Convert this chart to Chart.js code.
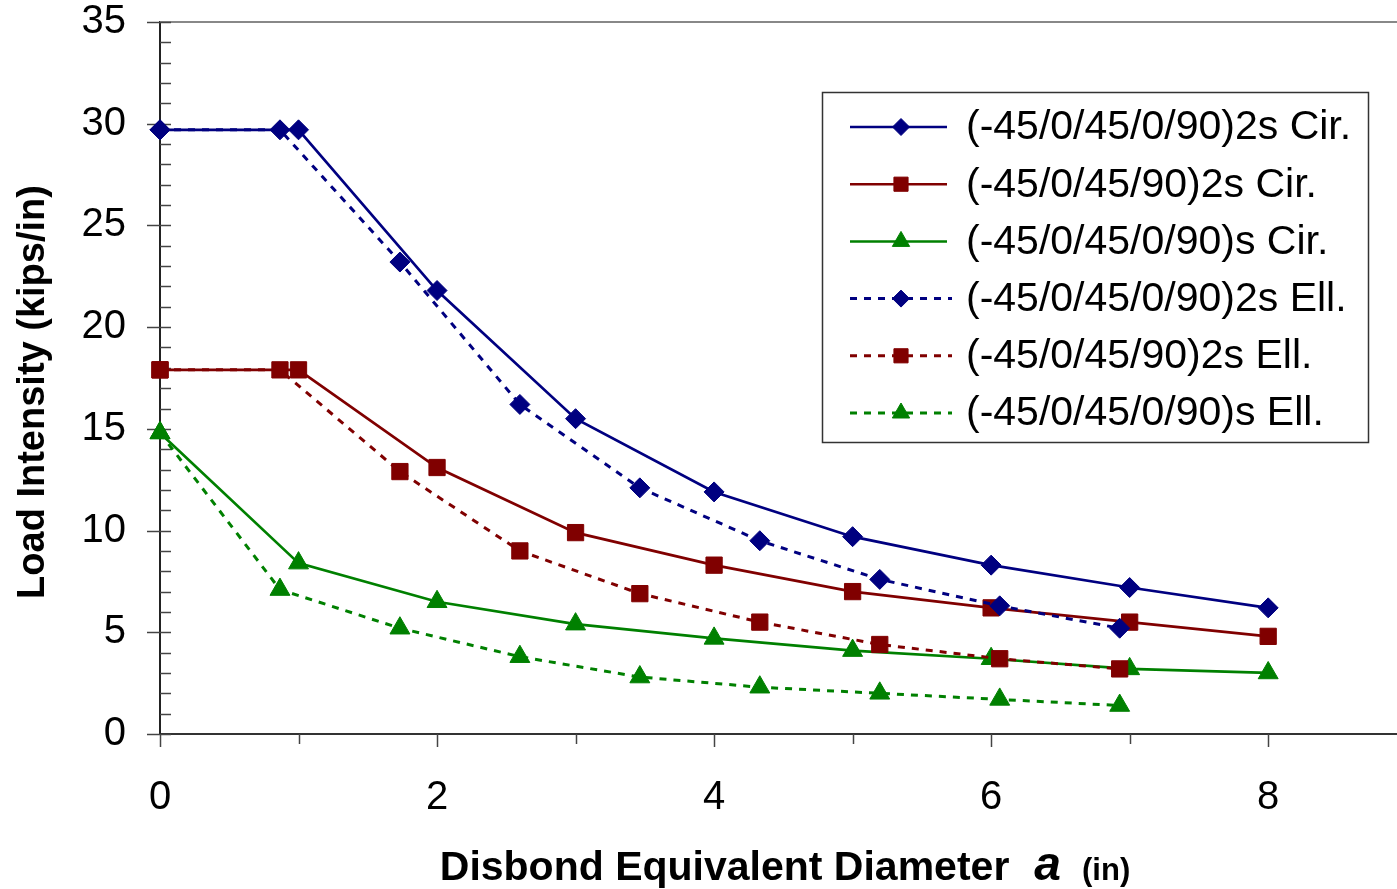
<!DOCTYPE html>
<html>
<head>
<meta charset="utf-8">
<title>Load Intensity vs Disbond Diameter</title>
<script src="https://cdn.jsdelivr.net/npm/chart.js@4.4.1/dist/chart.umd.min.js"></script>
<style>
  html, body { margin: 0; padding: 0; background: #fff; }
  #wrap { width: 1397px; height: 889px; }
</style>
</head>
<body>
<div id="wrap"><canvas id="chart" width="1397" height="889"></canvas></div>
<script>
// x positions: circular disbonds at whole inches, elliptical ones at steps of ~0.866
const xCir = [0, 1, 2, 3, 4, 5, 6, 7, 8];
const xEll = [0, 0.866, 1.732, 2.598, 3.464, 4.33, 5.196, 6.062, 6.928];

// load intensity (kips/in)
const cir2sA = [29.7, 29.7, 21.8, 15.5, 11.9, 9.7, 8.3, 7.2, 6.2];
const cir2sB = [17.9, 17.9, 13.1, 9.9, 8.3, 7.0, 6.2, 5.5, 4.8];
const cirSA  = [14.8, 8.4, 6.5, 5.4, 4.7, 4.1, 3.7, 3.2, 3.0];
const ell2sA = [29.7, 29.7, 23.2, 16.2, 12.1, 9.5, 7.6, 6.3, 5.2];
const ell2sB = [17.9, 17.9, 12.9, 9.0, 6.9, 5.5, 4.4, 3.7, 3.2];
const ellSA  = [14.8, 7.1, 5.2, 3.8, 2.8, 2.3, 2.0, 1.7, 1.4];

const seriesNames = [
  '(-45/0/45/0/90)2s Cir.',
  '(-45/0/45/90)2s Cir.',
  '(-45/0/45/0/90)s Cir.',
  '(-45/0/45/0/90)2s Ell.',
  '(-45/0/45/90)2s Ell.',
  '(-45/0/45/0/90)s Ell.'
];
const yTicks = [0, 5, 10, 15, 20, 25, 30, 35];
const xTicks = [0, 2, 4, 6, 8];

const NAVY = '#000080', MAROON = '#800000', GREEN = '#008000';
const FONT = '"Liberation Sans", Arial, sans-serif';

function pts(xs, ys) {
  return xs.map((x, i) => ({ x: x, y: ys[i] }));
}

function makeSet(label, xs, ys, color, shape, dashed, order) {
  let r = shape === 'rect' ? 11.5 : (shape === 'triangle' ? 11.5 : 10);
  return {
    label: label,
    data: pts(xs, ys),
    borderColor: color,
    backgroundColor: color,
    borderWidth: dashed ? 3 : 2.7,
    borderDash: dashed ? [7, 7] : [],
    pointStyle: shape,
    pointRadius: r,
    pointHoverRadius: r,
    pointBorderWidth: 1,
    pointBackgroundColor: color,
    pointBorderColor: color,
    tension: 0,
    clip: false,
    order: order
  };
}

const datasets = [
  makeSet(seriesNames[0], xCir, cir2sA, NAVY, 'rectRot', false, 6),
  makeSet(seriesNames[1], xCir, cir2sB, MAROON, 'rect', false, 5),
  makeSet(seriesNames[2], xCir, cirSA, GREEN, 'triangle', false, 4),
  makeSet(seriesNames[3], xEll, ell2sA, NAVY, 'rectRot', true, 3),
  makeSet(seriesNames[4], xEll, ell2sB, MAROON, 'rect', true, 2),
  makeSet(seriesNames[5], xEll, ellSA, GREEN, 'triangle', true, 1)
];

// axis tick marks, top border, legend and titles
const decor = {
  id: 'decor',
  beforeDatasetsDraw(chart) {
    const ctx = chart.ctx;
    const xs = chart.scales.x, ys = chart.scales.y;
    const area = chart.chartArea;
    ctx.save();
    // top border
    ctx.strokeStyle = '#888';
    ctx.lineWidth = 2;
    ctx.beginPath();
    ctx.moveTo(area.left, area.top);
    ctx.lineTo(chart.width, area.top);
    ctx.stroke();
    // y ticks: major outward, minor inward
    ctx.strokeStyle = '#444';
    ctx.lineWidth = 1.5;
    for (let v = 0; v <= 35; v++) {
      const py = Math.round(ys.getPixelForValue(v)) + 0.5;
      ctx.beginPath();
      if (v % 5 === 0) {
        ctx.moveTo(area.left - 13, py);
      } else {
        ctx.moveTo(area.left, py);
      }
      ctx.lineTo(area.left + 11, py);
      ctx.stroke();
    }
    // x ticks downward
    for (let v = 0; v <= 8; v++) {
      const px = Math.round(xs.getPixelForValue(v)) + 0.5;
      ctx.beginPath();
      ctx.moveTo(px, area.bottom);
      ctx.lineTo(px, area.bottom + (v % 2 === 0 ? 13 : 10));
      ctx.stroke();
    }
    ctx.restore();
  },
  afterDraw(chart) {
    const ctx = chart.ctx;
    ctx.save();
    // legend box
    const bx = 822, by = 92, bw = 546, bh = 350;
    ctx.fillStyle = '#fff';
    ctx.fillRect(bx, by, bw, bh);
    ctx.strokeStyle = '#333';
    ctx.lineWidth = 1.5;
    ctx.strokeRect(bx + 0.5, by + 0.5, bw, bh);
    chart.data.datasets.forEach((ds, i) => {
      const cy = 127 + i * 57.2;
      ctx.save();
      ctx.strokeStyle = ds.borderColor;
      ctx.lineWidth = ds.borderDash.length ? 3 : 2.5;
      ctx.setLineDash(ds.borderDash.length ? [7, 7] : []);
      ctx.beginPath();
      ctx.moveTo(850, cy);
      ctx.lineTo(ds.borderDash.length ? 952 : 947, cy);
      ctx.stroke();
      ctx.setLineDash([]);
      ctx.fillStyle = ds.pointBackgroundColor;
      ctx.strokeStyle = ds.pointBorderColor;
      ctx.lineWidth = 1;
      Chart.helpers.drawPoint(ctx, {
        pointStyle: ds.pointStyle,
        radius: ds.pointStyle === 'rectRot' ? 8.5 : 10,
        rotation: 0,
        borderWidth: 1
      }, 901, cy);
      ctx.restore();
      ctx.fillStyle = '#000';
      ctx.font = '41px ' + FONT;
      ctx.textBaseline = 'middle';
      ctx.textAlign = 'left';
      ctx.fillText(ds.label, 966, cy + 1);
    });
    // y title
    ctx.save();
    ctx.translate(34, 392);
    ctx.rotate(-Math.PI / 2);
    ctx.font = 'bold 38px ' + FONT;
    ctx.fillStyle = '#000';
    ctx.textAlign = 'center';
    ctx.textBaseline = 'middle';
    ctx.fillText('Load Intensity (kips/in)', 0, 0);
    ctx.restore();
    // x title with mixed styles
    const parts = [
      { t: 'Disbond Equivalent Diameter', f: 'bold 41px ' + FONT, gap: 25 },
      { t: 'a', f: 'italic bold 48px ' + FONT, gap: 21 },
      { t: '(in)', f: 'bold 31px ' + FONT, gap: 0 }
    ];
    let total = 0;
    parts.forEach(p => { ctx.font = p.f; p.w = ctx.measureText(p.t).width; total += p.w + p.gap; });
    let x = 785 - total / 2;
    const base = 880;
    ctx.fillStyle = '#000';
    ctx.textBaseline = 'alphabetic';
    ctx.textAlign = 'left';
    parts.forEach(p => { ctx.font = p.f; ctx.fillText(p.t, x, base); x += p.w + p.gap; });
    ctx.restore();
  }
};

new Chart(document.getElementById('chart'), {
  type: 'line',
  data: { datasets: datasets },
  options: {
    responsive: false,
    animation: false,
    events: [],
    layout: { autoPadding: false, padding: { top: 22, right: 0, left: 0, bottom: 0 } },
    plugins: {
      legend: { display: false },
      tooltip: { enabled: false }
    },
    scales: {
      x: {
        type: 'linear',
        min: 0,
        max: 8.93,
        afterFit: (s) => { s.height = 155; s.paddingLeft = 0; s.paddingRight = 0; },
        afterBuildTicks: (s) => { s.ticks = xTicks.map(v => ({ value: v })); },
        grid: { display: true, drawOnChartArea: false, drawTicks: false },
        border: { display: true, color: '#333', width: 2 },
        ticks: {
          padding: 40,
          color: '#000',
          font: { family: FONT, size: 40 },
          maxRotation: 0
        }
      },
      y: {
        type: 'linear',
        min: 0,
        max: 35,
        afterFit: (s) => { s.width = 160; s.paddingTop = 0; s.paddingBottom = 0; },
        afterBuildTicks: (s) => { s.ticks = yTicks.map(v => ({ value: v })); },
        grid: { display: true, drawOnChartArea: false, drawTicks: false },
        border: { display: true, color: '#222', width: 2 },
        ticks: {
          padding: 34,
          color: '#000',
          font: { family: FONT, size: 40 }
        }
      }
    }
  },
  plugins: [decor]
});
</script>
</body>
</html>
